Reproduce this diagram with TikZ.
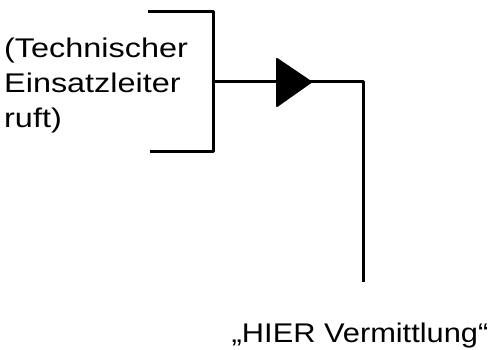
\documentclass[tikz,border=0pt]{standalone}
\usepackage{fontspec}
\setmainfont{Liberation Sans}
\begin{document}
\begin{tikzpicture}[x=1pt,y=1pt,
  line/.style={line width=3pt,line join=round},
  lbl/.style={inner sep=0pt,font=\fontsize{27}{35}\selectfont}]
\useasboundingbox (0,0) rectangle (492,350);
% left text
\node[lbl,align=left,anchor=north west] (txt) at (4,312) {\scalebox{1.2}[1]{(Technischer}\\\scalebox{1.2}[1]{Einsatzleiter}\\\scalebox{1.2}[1]{ruft)}};
% bracket
\coordinate (bt) at (148,338);
\coordinate (bc) at (213,338);
\coordinate (bd) at (213,198);
\coordinate (bb) at (150,198);
\coordinate (bm) at (213,268);
\draw[line] (bt) -- (bc) -- (bd) -- (bb);
% triangle
\coordinate (ta) at (277,291);
\coordinate (tb) at (277,244);
\coordinate (tt) at (311,268);
\coordinate (corner) at (363,268);
\coordinate (end) at (363,68);
\draw[line] (bm) -- (corner) -- (end);
\fill[line join=round,draw,line width=2pt] (ta) -- (tt) -- (tb) -- cycle;
% bottom text
\node[lbl,anchor=base] (msg) at (360,7) {\scalebox{1.14}[1]{„HIER Vermittlung“}};
\end{tikzpicture}
\end{document}
